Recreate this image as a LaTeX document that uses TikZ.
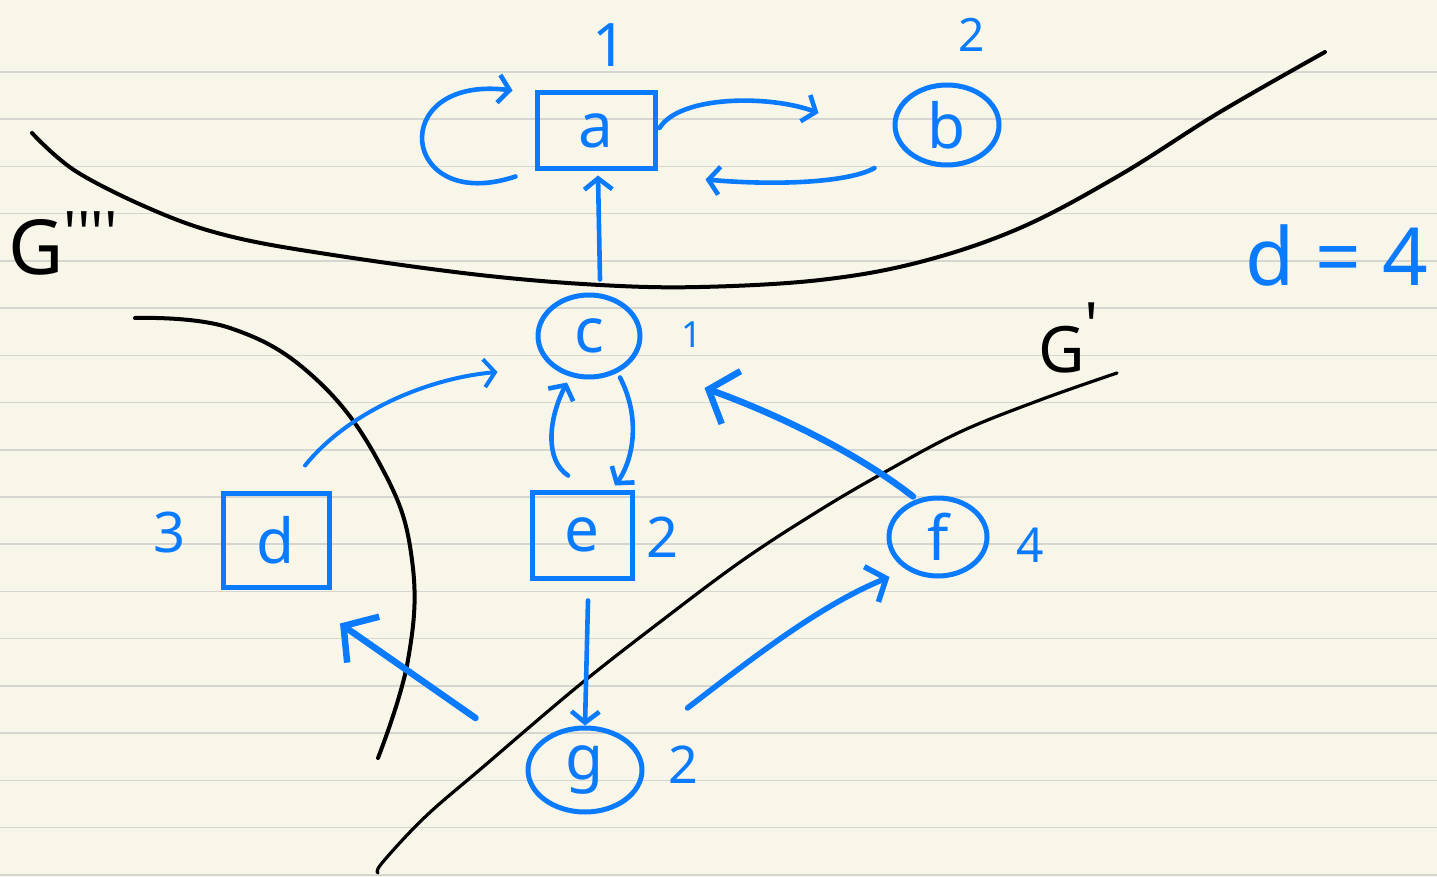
\documentclass[tikz,border=0pt]{standalone}
\usepackage{fontspec}
\setmainfont{Noto Sans}
\usetikzlibrary{arrows.meta,shapes.geometric}
\definecolor{paper}{RGB}{248,246,233}
\definecolor{rulecol}{RGB}{214,214,209}
\definecolor{pen}{RGB}{10,122,255}
\newcommand\fsz[1]{\fontsize{#1}{#1}\selectfont}
\begin{document}
\begin{tikzpicture}[x=1pt,y=-1pt,
  penline/.style={draw=pen, line width=4.6pt, line cap=round, line join=round},
  arr/.style={penline, -{Straight Barb[length=11pt,width=28pt]}},
  bigarr/.style={penline, line width=6.5pt, -{Straight Barb[length=24pt,width=56pt]}},
  medarr/.style={penline, line width=5.5pt, -{Straight Barb[length=16pt,width=38pt]}},
  boxnode/.style={draw=pen, line width=5pt, rectangle, text=pen, inner sep=0pt, font=\fsz{62}},
  circnode/.style={draw=pen, line width=5pt, ellipse, text=pen, inner sep=0pt, font=\fsz{62}},
  lbl/.style={text=pen, inner sep=0pt},
  bound/.style={draw=black, line width=4pt, line cap=round, line join=round},
  glbl/.style={text=black, inner sep=0pt}]
\useasboundingbox (0,0) rectangle (1437,877);
\fill[paper] (0,0) rectangle (1437,877);
\foreach \k in {0,...,17}{
  \draw[rulecol, line width=1.6pt] (0,{72+47.22*\k}) -- (1437,{72+47.22*\k});
}
% black boundaries
\draw[bound] plot[smooth, tension=0.6] coordinates {(32,133) (77,172) (160,213) (233,237) (333,255) (480,275) (600,285) (700,287) (820,280) (920,262) (1020,228) (1120,175) (1220,112) (1325,52)};
\draw[bound] plot[smooth, tension=0.7] coordinates {(135,318) (230,328) (317,380) (383,470) (412,560) (408,660) (378,758)};
\draw[bound, line width=3.2pt] plot[smooth, tension=0.6] coordinates {(378,873) (382,863) (425,817) (483,767) (577,687) (660,622) (743,560) (820,510) (885,472) (960,432) (1040,400) (1117,373)};
\node[glbl, font=\fsz{76}, anchor=west] (G4) at (8,243) {G\raisebox{20pt}{\fsz{60}\textquotesingle\textquotesingle\textquotesingle\textquotesingle}};
\node[glbl, font=\fsz{64}, anchor=west] (G1) at (1038,338) {G\raisebox{24pt}{\fsz{64}\textquotesingle}};
% nodes
\node[boxnode, minimum width=118pt, minimum height=76pt] (a) at (596,131) {a};
\node[circnode, minimum width=104pt, minimum height=80pt] (b) at (947,125) {b};
\node[circnode, minimum width=102pt, minimum height=82pt] (c) at (589,336) {c};
\node[boxnode, minimum width=106pt, minimum height=94pt] (d) at (276,540) {d};
\node[boxnode, minimum width=100pt, minimum height=86pt] (e) at (582,535) {e};
\node[circnode, minimum width=98pt, minimum height=78pt] (f) at (938,537) {f};
\node[circnode, minimum width=114pt, minimum height=84pt] (g) at (585,770) {g};
% labels
\node[lbl, font=\fsz{60}] (la) at (610,45) {1};
\node[lbl, font=\fsz{46}] (lb) at (972,35) {2};
\node[lbl, font=\fsz{36}] (lc) at (692,335) {1};
\node[lbl, font=\fsz{56}] (ld) at (170,533) {3};
\node[lbl, font=\fsz{56}] (le) at (663,537) {2};
\node[lbl, font=\fsz{48}] (lf) at (1030,545) {4};
\node[lbl, font=\fsz{52}] (lg) at (683,765) {2};
\node[lbl, font=\fsz{80}] (deg) at (1337,255) {d = 4};
% connectors
\draw[arr] ([shift={(-19,5)}]a.south west) .. controls (400,215) and (385,75) .. ([shift={(-22,0)}]a.north west);
\draw[arr] ([shift={(2,-3)}]a.east) .. controls (680,95) and (770,95) .. ([shift={(-74,-12)}]b.west);
\draw[arr] ([shift={(-18,43)}]b.west) .. controls (850,182) and (780,186) .. ([shift={(48,8)}]a.south east);
\draw[arr] ([shift={(11,-13)}]c.north) -- ([shift={(2,4)}]a.south);
\draw[arr] ([shift={(31,-2)}]c.south) .. controls (642,420) and (632,462) .. ([shift={(33,-4)}]e.north);
\draw[arr] ([shift={(-14,-14)}]e.north) .. controls (545,460) and (548,420) .. ([shift={(-22,3)}]c.south);
\draw[arr, line width=4pt] ([shift={(29,-25)}]d.north) .. controls (350,410) and (430,378) .. ([shift={(-38,36)}]c.west);
\draw[bigarr] ([shift={(-25,1)}]f.north) .. controls (860,455) and (780,415) .. ([shift={(62,52)}]c.east);
\draw[bigarr] ([shift={(-50,-52)}]g.west) -- ([shift={(64,34)}]d.south);
\draw[arr] ([shift={(6,20)}]e.south) -- (g.north);
\draw[medarr] ([shift={(43,-62)}]g.east) .. controls (750,660) and (820,605) .. ([shift={(3,40)}]f.west);
\end{tikzpicture}
\end{document}
